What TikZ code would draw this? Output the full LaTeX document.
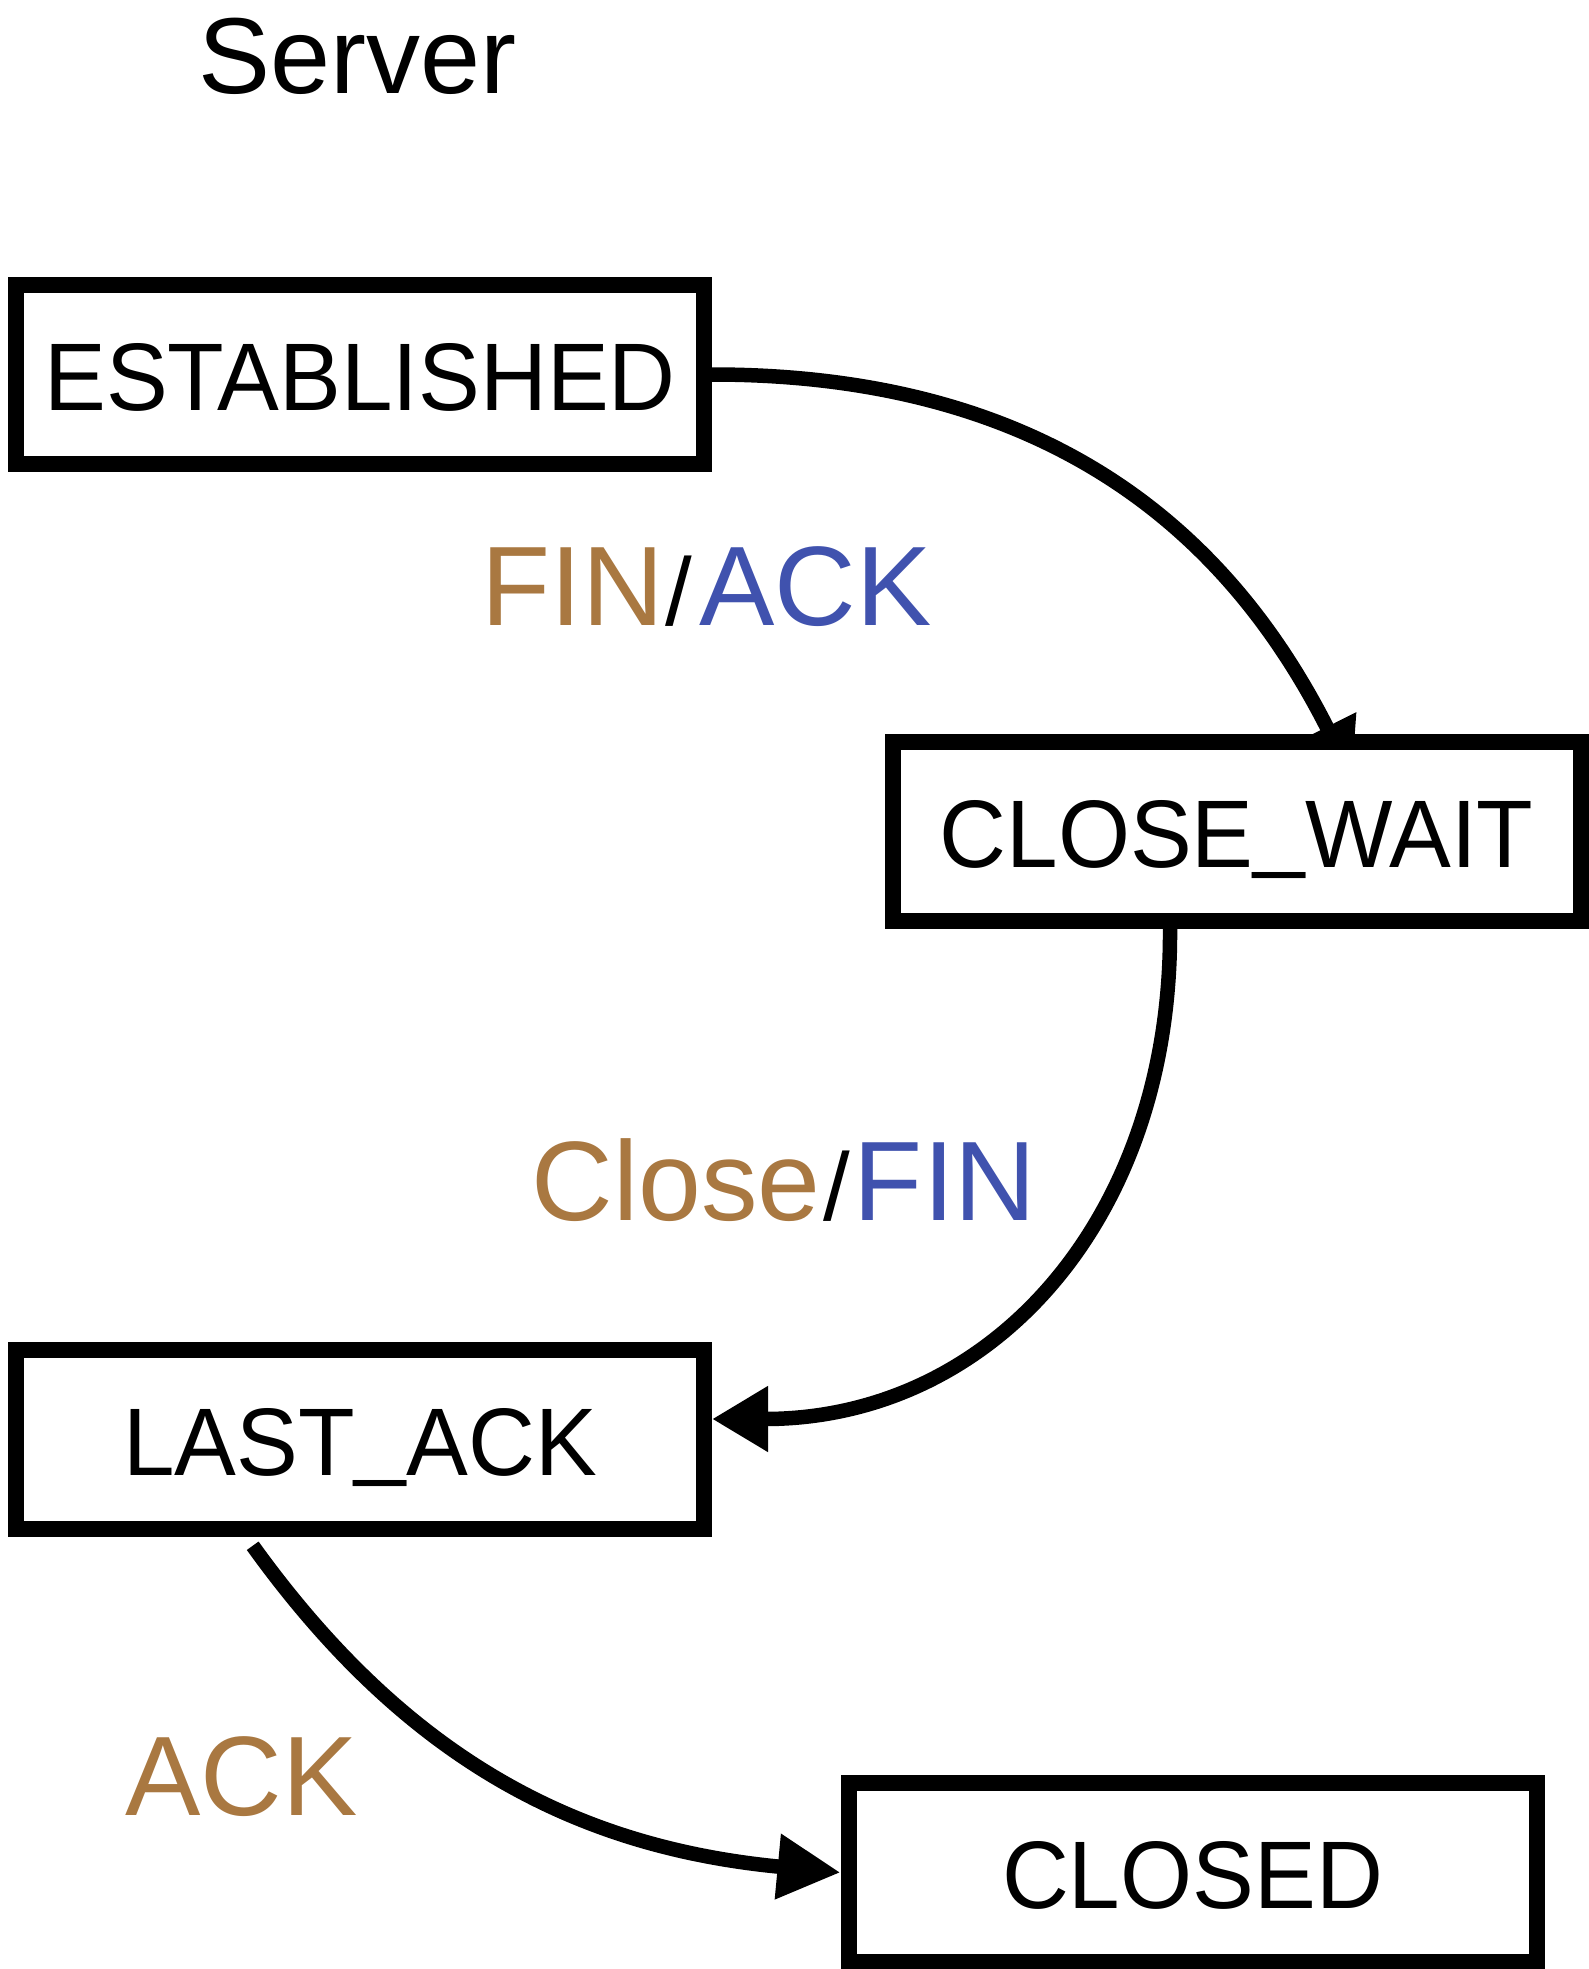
\documentclass[tikz,border=0pt]{standalone}
\usepackage{fontspec}
\setmainfont{Liberation Sans}
\newfontfamily\statefont[FakeStretch=0.965]{Liberation Sans}
\usetikzlibrary{arrows.meta,backgrounds}
\definecolor{evtbrown}{RGB}{169,120,65}
\definecolor{actblue}{RGB}{64,82,174}
% underscore set a little higher, as in Helvetica
\newcommand\usc{\raisebox{8pt}{\_}}
\begin{document}
\begin{tikzpicture}[x=1pt,y=-1pt,
  state/.style={draw=black, line width=16pt, fill=white,
    minimum width=688pt, minimum height=179pt, inner sep=0pt,
    text height=72pt, text depth=0pt,
    font=\statefont\fontsize{96}{96}\selectfont},
  evlabel/.style={anchor=base west, inner sep=0pt,
    font=\fontsize{113}{113}\selectfont},
  conn/.style={line width=14.5pt, line cap=butt},
  arrowto/.style={-{Triangle[length=#1,width=62pt]}},
  arrowto/.default=58pt]

\useasboundingbox (0,0) rectangle (1589,1969);

% title
\node[evlabel, font=\fontsize{108}{108}\selectfont] (srv) at (198,94) {Server};

% states
\node[state] (est) at (360,374.5)    {ESTABLISHED};
\node[state] (cw)  at (1236.5,831)   {CLOSE\usc WAIT};
\node[state] (la)  at (360,1439.5)   {LAST\usc ACK};
\node[state] (cl)  at (1192.5,1872.5) {CLOSED};

% transition labels: event / action
\node[evlabel] (t1) at (481.7,625)
  {\textcolor{evtbrown}{FIN}{\fontsize{96}{96}\selectfont\kern1.3pt/\kern7.6pt}\textcolor{actblue}{ACK}};
\node[evlabel] (t2) at (531.5,1220)
  {\textcolor{evtbrown}{Close}{\fontsize{96}{96}\selectfont\kern2.7pt/\kern4pt}\textcolor{actblue}{FIN}};
\node[evlabel] (t3) at (125.4,1815.7) {\textcolor{evtbrown}{ACK}};

% transitions, drawn behind the state boxes
\begin{scope}[on background layer]
  \coordinate (cwin)  at ([shift={(115.5,-54)}]cw.center);
  \coordinate (cwout) at ([shift={(-66.5,0)}]cw.south);
  \coordinate (lain)  at ([shift={(0,-20.5)}]la.east);
  \coordinate (laout) at ([shift={(-107.3,8.75)}]la.south);
  \draw[conn, arrowto=56pt] (est.east) .. controls +(360,0) and +(-112,-222) .. (cwin);
  \draw[conn, arrowto=56pt] (cwout) .. controls +(2,290) and +(280,0) .. (lain);
  \draw[conn, arrowto=63pt] (laout) .. controls +(154,214) and +(-263,-25) .. (cl.west);
\end{scope}
\end{tikzpicture}
\end{document}
